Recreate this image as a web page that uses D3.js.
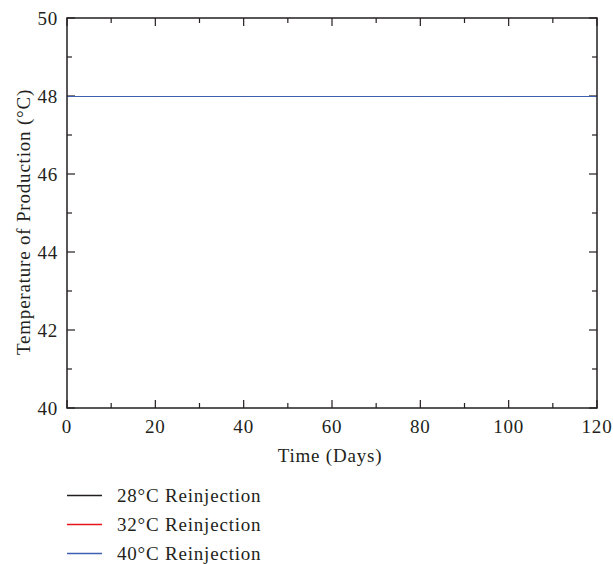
<!DOCTYPE html>
<html>
<head>
    <meta charset="utf-8" />
    <title>Temperature of Production</title>
    <script src="https://cdn.jsdelivr.net/npm/d3@7"></script>
    <style>
        body { margin: 0; background: #fff; }
        text { font-family: "Liberation Serif", "DejaVu Serif", serif; fill: #231f20; letter-spacing: 0.8px; }
    </style>
</head>
<body>
    <svg id="chart" width="613" height="564"></svg>
    <script>
        // data
        const days = [0, 20, 40, 60, 80, 100, 120];
        const temp28 = [48, 48, 48, 48, 48, 48, 48];
        const temp32 = [48, 48, 48, 48, 48, 48, 48];
        const temp40 = [48, 48, 48, 48, 48, 48, 48];
        const seriesNames = ['28\u00b0C Reinjection', '32\u00b0C Reinjection', '40\u00b0C Reinjection'];
        const seriesColors = ['#231f20', '#e8141b', '#3d5fae'];
        const xTicks = [0, 20, 40, 60, 80, 100, 120];
        const yTicks = [40, 42, 44, 46, 48, 50];

        const left = 67, right = 597, top_ = 18, bottom = 408;
        const fs = 19;
        const svg = d3.select('#chart');

        const x = d3.scaleLinear().domain([0, 120]).range([left, right]);
        const y = d3.scaleLinear().domain([40, 50]).range([bottom, top_]);

        const minorX = d3.range(0, 121, 10);
        const minorY = d3.range(40, 50.1, 1);

        // tick marks (inward) on all four sides
        const g = svg.append('g').attr('stroke', '#231f20').attr('stroke-width', 1.2);
        minorX.forEach(v => {
            const len = v % 20 === 0 ? 8 : 5;
            g.append('line').attr('x1', x(v)).attr('x2', x(v)).attr('y1', bottom).attr('y2', bottom - len);
            g.append('line').attr('x1', x(v)).attr('x2', x(v)).attr('y1', top_).attr('y2', top_ + len);
        });
        minorY.forEach(v => {
            const len = v % 2 === 0 ? 8 : 5;
            g.append('line').attr('y1', y(v)).attr('y2', y(v)).attr('x1', left).attr('x2', left + len);
            g.append('line').attr('y1', y(v)).attr('y2', y(v)).attr('x1', right).attr('x2', right - len);
        });

        // series (pixel-aligned so the top line covers the others)
        const line = d3.line().x((d, i) => x(days[i])).y(d => Math.round(y(d)) + 0.5);
        [temp28, temp32, temp40].forEach((s, i) => {
            svg.append('path')
                .datum(s)
                .attr('d', line)
                .attr('fill', 'none')
                .attr('stroke', seriesColors[i])
                .attr('stroke-width', 1);
        });

        // frame
        svg.append('rect')
            .attr('x', left).attr('y', top_)
            .attr('width', right - left).attr('height', bottom - top_)
            .attr('fill', 'none').attr('stroke', '#231f20').attr('stroke-width', 1.5);

        // tick labels
        svg.append('g').selectAll('text').data(xTicks).enter().append('text')
            .attr('x', d => x(d)).attr('y', bottom + 25)
            .attr('text-anchor', 'middle').attr('font-size', fs)
            .text(d => d);
        svg.append('g').selectAll('text').data(yTicks).enter().append('text')
            .attr('x', left - 9).attr('y', d => y(d) + 6.5)
            .attr('text-anchor', 'end').attr('font-size', fs)
            .text(d => d);

        // axis titles
        svg.append('text')
            .attr('x', 330).attr('y', 462)
            .attr('text-anchor', 'middle').attr('font-size', fs)
            .text('Time (Days)');
        svg.append('text')
            .attr('transform', 'translate(30,222) rotate(-90)')
            .attr('text-anchor', 'middle').attr('font-size', fs)
            .text('Temperature of Production (\u00b0C)');

        // legend
        const leg = svg.append('g').selectAll('g').data(seriesNames).enter().append('g')
            .attr('transform', (d, i) => `translate(67,${495 + i * 29})`);
        leg.append('line')
            .attr('x1', 0).attr('x2', 35).attr('y1', 0.5).attr('y2', 0.5)
            .attr('stroke', (d, i) => seriesColors[i]).attr('stroke-width', 1.3);
        leg.append('text')
            .attr('x', 50).attr('y', 6.5).attr('font-size', fs)
            .text(d => d);
    </script>
</body>
</html>
